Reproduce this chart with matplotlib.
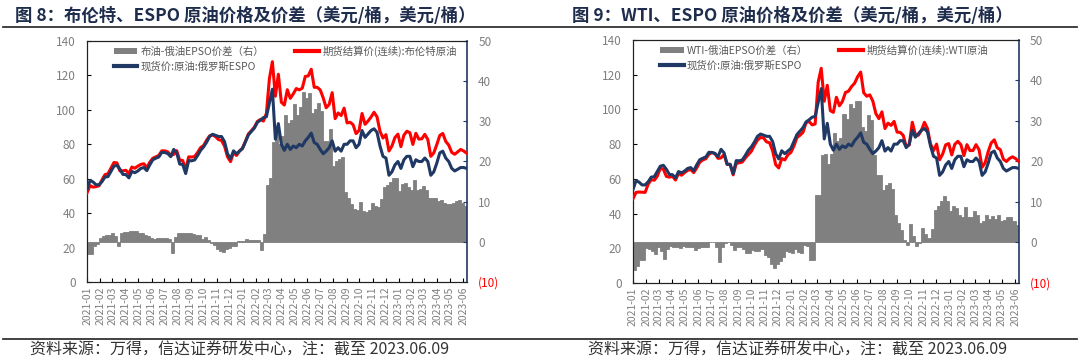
import pandas as pd
import matplotlib.pyplot as plt
import matplotlib.dates as mdates
from matplotlib.patches import Patch
from matplotlib.lines import Line2D

plt.rcParams['font.family'] = ['Noto Sans CJK SC', 'DejaVu Sans']

# weekly (Friday) sample dates, 2021-01-01 .. 2023-06-09
dates = pd.date_range('2021-01-01', '2023-06-09', freq='W-FRI')

# Brent futures settlement (USD/bbl)
brent = [
    51.8, 56.0, 55.1, 55.4, 55.9, 59.3, 62.4, 62.9, 66.1, 69.4, 69.2, 64.5, 64.6,
    64.9, 63.0, 66.8, 66.1, 67.3, 68.3, 68.7, 66.4, 69.6, 71.9, 72.7, 73.5, 76.2,
    76.2, 75.6, 73.6, 74.1, 76.3, 70.7, 70.6, 65.2, 72.7, 72.6, 72.9, 75.3, 78.1,
    79.3, 82.4, 84.9, 85.5, 84.4, 82.7, 82.2, 78.9, 72.7, 69.9, 75.2, 73.5, 76.1, 77.8,
    81.8, 86.1, 87.9, 90.0, 93.3, 94.4, 93.5, 97.9, 118.1, 128.0, 107.9, 120.7, 104.4,
    102.8, 111.7, 106.7, 109.3, 112.4, 111.6, 112.6, 119.4, 119.7, 123.6, 113.1, 113.1,
    111.6, 107.0, 101.2, 103.2, 110.0, 94.9, 98.2, 96.7, 101.0, 92.4, 92.8, 91.4, 86.2,
    88.0, 97.9, 91.6, 93.5, 95.8, 98.6, 96.0, 87.6, 83.6, 85.6, 76.1, 79.0, 83.9, 85.9,
    78.6, 85.3, 87.6, 86.7, 79.9, 86.4, 83.0, 83.2, 85.8, 82.8, 73.0, 75.0, 79.8,
    85.1, 86.3, 81.7, 79.5, 75.3, 74.2, 75.6, 77.0, 76.1, 74.8,
]

# WTI futures settlement (USD/bbl)
wti = [
    48.5, 52.2, 52.4, 52.3, 52.2, 56.9, 59.5, 59.2, 61.5, 66.1, 65.6, 61.4, 61.0,
    61.5, 59.3, 63.1, 62.1, 63.6, 64.9, 65.4, 63.6, 66.3, 69.6, 70.9, 71.6, 74.1,
    75.2, 74.6, 71.8, 72.1, 74.0, 68.3, 68.4, 62.3, 68.7, 69.3, 69.7, 72.0, 74.0,
    75.9, 79.4, 82.3, 83.8, 83.6, 81.3, 80.8, 76.1, 68.2, 66.3, 71.7, 70.9, 73.8, 75.2,
    78.9, 83.8, 85.1, 86.8, 92.3, 93.1, 91.1, 91.6, 115.7, 123.7, 104.7, 113.9, 99.3,
    98.3, 107.0, 102.1, 104.7, 109.8, 110.5, 113.2, 115.1, 118.9, 121.5, 109.6, 107.6,
    108.4, 104.8, 97.6, 94.7, 98.6, 89.0, 92.1, 90.8, 93.1, 86.9, 86.8, 85.1, 78.7,
    79.5, 92.6, 85.6, 85.1, 87.9, 92.6, 89.0, 80.1, 76.3, 80.0, 71.0, 74.3, 79.6, 80.3,
    73.8, 79.9, 81.6, 79.7, 73.4, 79.7, 76.3, 76.3, 79.7, 76.7, 66.7, 69.3, 75.7,
    80.7, 82.5, 77.9, 76.8, 71.3, 70.0, 71.7, 72.7, 71.7, 70.2,
]

# Russian ESPO spot (USD/bbl)
espo = [
    53.8, 59.0, 58.1, 56.5, 56.5, 58.3, 61.0, 61.2, 64.3, 67.3, 67.8, 65.5, 62.5,
    62.4, 60.5, 64.2, 63.5, 64.5, 66.0, 66.5, 64.7, 68.1, 71.0, 71.9, 72.6, 75.3,
    75.2, 74.6, 72.8, 77.0, 75.0, 68.5, 68.3, 63.0, 70.5, 70.4, 70.9, 73.5, 76.5,
    78.5, 81.2, 84.5, 85.8, 85.2, 84.5, 84.5, 81.5, 74.5, 71.5, 76.2, 74.5, 76.0, 77.5,
    81.5, 85.5, 87.5, 89.5, 92.8, 94.0, 95.5, 96.0, 104.0, 112.0, 83.0, 92.0, 80.0,
    76.5, 80.0, 77.0, 79.0, 78.0, 80.0, 79.0, 82.0, 84.0, 86.5, 81.0, 80.0,
    77.0, 74.5, 76.0, 78.0, 82.0, 76.0, 78.0, 76.0, 80.0, 80.0, 82.0, 82.0, 78.0,
    80.0, 88.0, 84.0, 86.0, 88.0, 89.0, 87.0, 79.0, 73.0, 72.0, 62.0, 64.0, 68.0, 70.0,
    66.0, 71.0, 73.0, 73.0, 67.0, 71.0, 70.0, 70.0, 72.0, 70.0, 62.0, 64.0, 69.0,
    75.0, 76.0, 72.0, 70.0, 66.0, 64.5, 65.5, 66.5, 66.5, 66.0,
]

month_ticks = pd.date_range('2021-01-01', '2023-06-01', freq='MS')

RED = '#FF0000'
NAVY = '#1F3864'
GREY = '#808080'
TXT = '#7F7F7F'

fig = plt.figure(figsize=(10.8, 3.6), dpi=100)

panels = [
    dict(rect=[0.0806, 0.2167, 0.3519, 0.6694], fut=brent,
         title='图 8：布伦特、ESPO 原油价格及价差（美元/桶，美元/桶）', tx=0.014,
         spread_lbl='布油-俄油EPSO价差（右）', fut_lbl='期货结算价(连续):布伦特原油'),
    dict(rect=[0.5861, 0.2139, 0.3574, 0.6750], fut=wti,
         title='图 9：WTI、ESPO 原油价格及价差（美元/桶，美元/桶）', tx=0.530,
         spread_lbl='WTI-俄油EPSO价差（右）', fut_lbl='期货结算价(连续):WTI原油'),
]

for p in panels:
    ax = fig.add_axes(p['rect'])
    ax2 = ax.twinx()
    spread = [f - e for f, e in zip(p['fut'], espo)]

    # spread bars on the right axis, drawn behind the price lines
    ax2.bar(dates, spread, width=-7, align='edge', color=GREY, edgecolor=GREY, linewidth=0.6)
    ax2.set_ylim(-10, 50)
    ax2.set_yticks(range(-10, 51, 10))
    ax2.set_yticklabels(['(10)'] + [str(v) for v in range(0, 51, 10)])
    ax2.tick_params(axis='y', direction='in', length=3, labelsize=8.5, labelcolor=TXT,
                    color=NAVY, pad=8)
    ax2.get_yticklabels()[0].set_color(RED)

    # price lines on a transparent overlay axis so they sit above the bars
    ax3 = fig.add_axes(p['rect'], sharex=ax)
    ax3.patch.set_visible(False)
    ax3.plot(dates, p['fut'], color=RED, lw=2.2)
    ax3.plot(dates, espo, color=NAVY, lw=2.2)
    ax3.set_ylim(0, 140)
    ax3.axis('off')

    ax.set_ylim(0, 140)
    ax.set_yticks(range(0, 141, 20))
    ax.tick_params(axis='y', direction='in', length=3, labelsize=8.5, labelcolor=TXT, pad=8)
    ax.set_xlim(pd.Timestamp('2021-01-01'), pd.Timestamp('2023-06-10'))
    ax.set_xticks(month_ticks)
    ax.xaxis.set_major_formatter(mdates.DateFormatter('%Y-%m'))
    ax.tick_params(axis='x', direction='in', length=3, labelsize=7.5, labelcolor=TXT,
                   rotation=90, pad=3)
    for s in ['left', 'bottom', 'top']:
        ax.spines[s].set_color('#222222')
        ax2.spines[s].set_color('#222222')
    ax.spines['right'].set_visible(False)
    ax2.spines['right'].set_color(NAVY)
    ax2.spines['right'].set_linewidth(1.2)

    handles = [Patch(facecolor=GREY, edgecolor='none'),
               Line2D([], [], color=NAVY, lw=3),
               Line2D([], [], color=RED, lw=3)]
    labels = [p['spread_lbl'], '现货价:原油:俄罗斯ESPO', p['fut_lbl']]
    ax3.legend(handles, labels, ncol=2, loc='upper left', bbox_to_anchor=(0.045, 1.02),
               frameon=False, fontsize=7.5, labelcolor='#595959', handlelength=2.3,
               handleheight=0.6, columnspacing=3.0, labelspacing=0.45, handletextpad=0.3)

    fig.text(p['tx'], 0.955, p['title'], fontsize=12.5, fontweight='bold',
             color='#1F2D4D', va='center', ha='left')
    fig.text(p['tx'] + 0.014, 0.027, '资料来源：万得，信达证券研发中心，注：截至 2023.06.09',
             fontsize=11.5, style='italic', color='#333333', va='center', ha='left')

# rules under the titles and above the footers
fig.add_artist(Line2D([0.003, 0.997], [0.925, 0.925], color='#333333', lw=1.3))
fig.add_artist(Line2D([0.003, 0.997], [0.058, 0.058], color='#333333', lw=1.3))

fig.savefig('out.png', dpi=100)
